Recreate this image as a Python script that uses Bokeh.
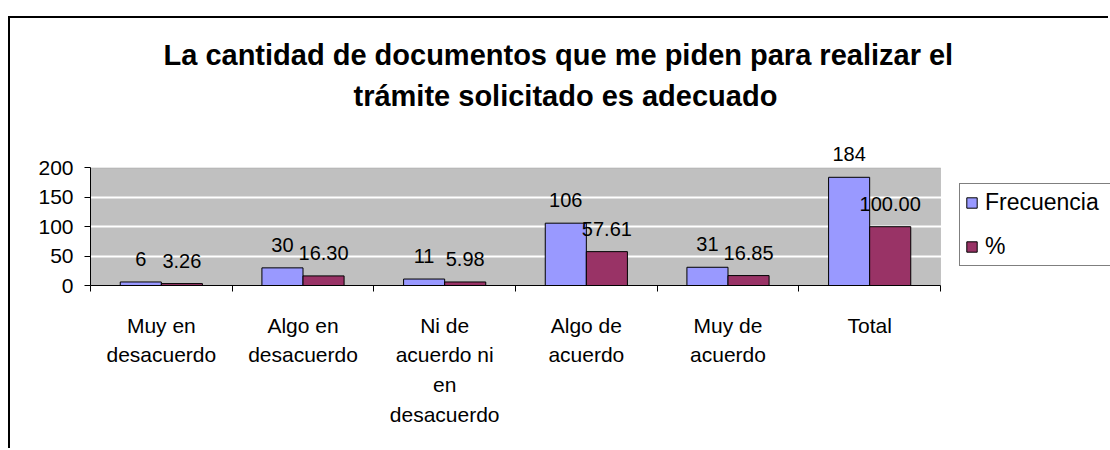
from bokeh.plotting import figure
from bokeh.models import (ColumnDataSource, FixedTicker, Title, Legend, LegendItem, LabelSet,
                          BoxAnnotation)
from bokeh.core.properties import value
from bokeh.transform import dodge
from bokeh.embed import file_html
from bokeh.resources import INLINE

# ---- data ----
categories = ["Muy en\ndesacuerdo", "Algo en\ndesacuerdo", "Ni de\nacuerdo ni\nen\ndesacuerdo",
              "Algo de\nacuerdo", "Muy de\nacuerdo", "Total"]
frecuencia = [6, 30, 11, 106, 31, 184]
porcentaje = [3.26, 16.30, 5.98, 57.61, 16.85, 100.00]
y_ticks = [0, 50, 100, 150, 200]
series_names = ["Frecuencia", "%"]
title_lines = ["La cantidad de documentos que me piden para realizar el",
               "trámite solicitado es adecuado"]

FONT = "Liberation Sans"
n = len(categories)
y_max = y_ticks[-1]
centers = [i + 0.5 for i in range(n)]
bounds = [float(i) for i in range(n + 1)]

src = ColumnDataSource(dict(
    x=centers,
    f=frecuencia,
    p=porcentaje,
    fl=[str(v) for v in frecuencia],
    pl=[f"{v:.2f}" for v in porcentaje],
))

# frame extends under the legend area and above the plot area (white), so that the
# legend and the top data label are not clipped; the grey plot area covers the data extent
p = figure(width=1100, height=432, x_range=(0, n * 1.2), y_range=(0, y_max * 1.25),
           output_backend="svg", toolbar_location=None,
           min_border_left=80, min_border_right=0, min_border_bottom=165, min_border_top=120)
p.styles = {"margin-top": "16px", "margin-left": "8px",
            "border-left": "2px solid #000", "border-top": "2px solid #000"}
p.background_fill_color = "white"
p.border_fill_color = "white"
p.outline_line_color = None

p.add_layout(BoxAnnotation(left=0, right=n, bottom=0, top=y_max, fill_color="#C0C0C0",
                           fill_alpha=1, line_color="#808080", line_width=1, level="image"))

r1 = p.vbar(x=dodge("x", -0.145), top="f", width=0.29, source=src,
            fill_color="#9999FF", line_color="black", line_width=1)
r2 = p.vbar(x=dodge("x", 0.145), top="p", width=0.29, source=src,
            fill_color="#993366", line_color="black", line_width=1)

for xs, col, ycol in ((-0.145, "fl", "f"), (0.145, "pl", "p")):
    p.add_layout(LabelSet(x=dodge("x", xs), y=ycol, text=col, source=src,
                          text_align="center", text_baseline="middle", y_offset=23,
                          text_font=value(FONT), text_font_size="20px", text_color="black"))

# y axis
p.yaxis.bounds = (0, y_max)
p.yaxis.ticker = FixedTicker(ticks=y_ticks)
p.yaxis.major_tick_out = 6
p.yaxis.major_tick_in = 0
p.yaxis.minor_tick_line_color = None
p.yaxis.major_label_text_font = FONT
p.yaxis.major_label_text_font_size = "21px"
p.yaxis.major_label_text_color = "black"
p.yaxis.major_label_standoff = 11
p.yaxis.axis_line_color = "black"
p.yaxis.major_tick_line_color = "black"

# x axis
p.xaxis.bounds = (0, n)
p.xaxis.ticker = FixedTicker(ticks=centers, minor_ticks=bounds)
p.xaxis.major_tick_line_color = None
p.xaxis.major_tick_out = 0
p.xaxis.major_tick_in = 0
p.xaxis.minor_tick_line_color = "black"
p.xaxis.minor_tick_out = 6
p.xaxis.minor_tick_in = 0
p.xaxis.major_label_overrides = {c: lab for c, lab in zip(centers, categories)}
p.xaxis.major_label_text_font = FONT
p.xaxis.major_label_text_font_size = "21px"
p.xaxis.major_label_text_color = "black"
p.xaxis.major_label_text_line_height = 1.29
p.xaxis.major_label_standoff = 22
p.xaxis.axis_line_color = "black"

p.xgrid.grid_line_color = None
p.ygrid.ticker = FixedTicker(ticks=y_ticks[1:-1])
p.ygrid.grid_line_color = "white"
p.ygrid.grid_line_width = 2
p.ygrid.level = "underlay"

# titles (closest to the frame first)
p.add_layout(Title(text=" ", standoff=10, text_font=FONT, text_font_size="10px"), "above")
p.add_layout(Title(text=title_lines[1], align="left", offset=263, standoff=7,
                   text_font=FONT, text_font_style="bold", text_font_size="29px",
                   text_color="black"), "above")
p.add_layout(Title(text=title_lines[0], align="left", offset=73, standoff=7,
                   text_font=FONT, text_font_style="bold", text_font_size="29px",
                   text_color="black"), "above")

legend = Legend(items=[LegendItem(label=series_names[0], renderers=[r1]),
                       LegendItem(label=series_names[1], renderers=[r2])],
                location=(869, 19), margin=0,
                label_text_font=FONT, label_text_font_size="23px", label_text_color="black",
                glyph_width=13, glyph_height=13, label_height=24, label_width=120,
                label_standoff=7, padding=5, spacing=17,
                border_line_color="black", border_line_width=1.5,
                background_fill_color="white", background_fill_alpha=1)
p.add_layout(legend)

open("out.html", "w").write(file_html(p, INLINE))
